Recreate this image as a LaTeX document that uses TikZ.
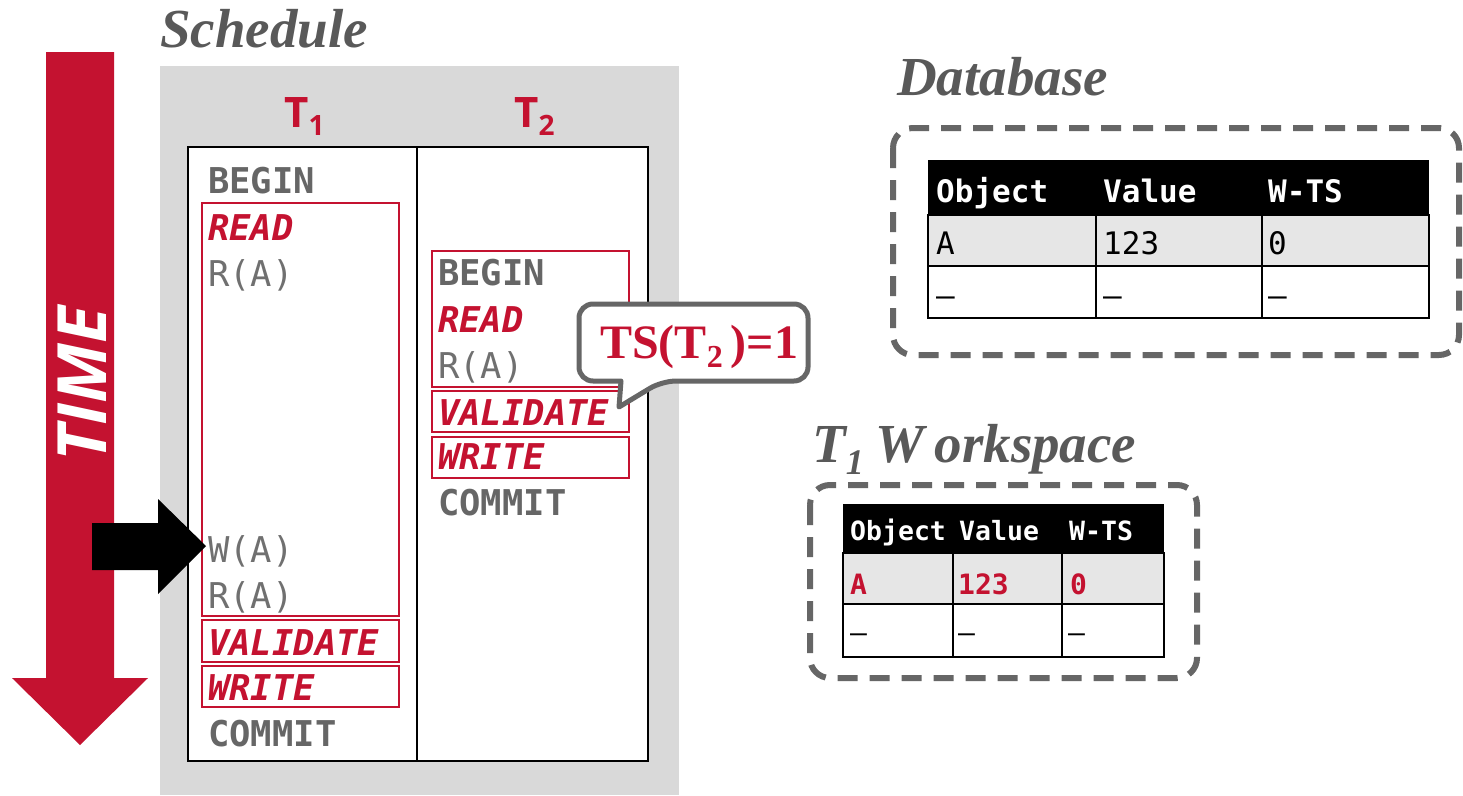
\documentclass[tikz,border=0pt]{standalone}
\usepackage{fontspec}
\setmainfont{Liberation Serif}
\newfontfamily\monofont{DejaVu Sans Mono}
\newfontfamily\sansfont{Open Sans}
\definecolor{cmured}{HTML}{C41230}
\definecolor{labelgray}{HTML}{595959}
\definecolor{txtgray}{HTML}{666666}
\definecolor{accgray}{HTML}{707070}
\definecolor{bggray}{HTML}{D9D9D9}
\definecolor{rowgray}{HTML}{E6E6E6}
\tikzset{
  title/.style={anchor=base west, inner sep=0pt, text=labelgray, font=\fontsize{55}{60}\selectfont\bfseries\itshape},
  opword/.style={anchor=base west, inner sep=0pt, text=txtgray, font=\monofont\fontsize{35.5}{40}\selectfont\bfseries},
  accword/.style={anchor=base west, inner sep=0pt, text=accgray, font=\monofont\fontsize{35.5}{40}\selectfont},
  phaseword/.style={anchor=base west, inner sep=0pt, text=cmured, font=\monofont\fontsize{35.5}{40}\selectfont\bfseries\itshape},
  phasebox/.style={draw=cmured, line width=1.6pt},
  dbox/.style={draw=txtgray, line width=6pt, dash pattern=on 20pt off 12pt, rounded corners=20pt},
  colhead/.style={anchor=base west, inner sep=0pt, text=cmured, font=\sansfont\fontsize{42}{46}\selectfont\bfseries},
  dbhead/.style={anchor=base west, inner sep=0pt, text=white, font=\monofont\fontsize{31}{34}\selectfont\bfseries},
  dbcell/.style={anchor=base west, inner sep=0pt, text=black, font=\monofont\fontsize{31}{34}\selectfont},
  wshead/.style={anchor=base west, inner sep=0pt, text=white, font=\monofont\fontsize{26.5}{30}\selectfont\bfseries},
  wscell/.style={anchor=base west, inner sep=0pt, text=cmured, font=\monofont\fontsize{28}{30}\selectfont\bfseries},
  wsdash/.style={anchor=base west, inner sep=0pt, text=black, font=\monofont\fontsize{28}{30}\selectfont},
  tline/.style={draw=black, line width=2pt},
}
\begin{document}
\begin{tikzpicture}[x=1pt, y=-1pt]
\useasboundingbox[fill=white] (0,0) rectangle (1463,795);

% TIME arrow
\fill[cmured] (46,52) -- (114,52) -- (114,678) -- (148,678) -- (80,745) -- (12,678) -- (46,678) -- cycle;
\node[rotate=90, inner sep=0pt, text=white, font=\sansfont\fontsize{68}{68}\selectfont\bfseries\itshape] (time) at (82,384) {TIME};

% Schedule
\node[title] (schedtitle) at (160,47) {Schedule};
\fill[bggray] (160,66) rectangle (679,795);
\draw[fill=white, line width=2pt] (188,147) rectangle (648,761);
\draw[line width=2pt] (417,147) -- (417,761);
\node[colhead] (t1) at (284,127) {T\raisebox{-8pt}{\fontsize{28}{28}\selectfont 1}};
\node[colhead] (t2) at (514,127) {T\raisebox{-8pt}{\fontsize{28}{28}\selectfont 2}};

% T1 column
\draw[phasebox] (202,203) rectangle (399,616);
\draw[phasebox] (202,620) rectangle (399,662);
\draw[phasebox] (202,666) rectangle (399,707);
\node[opword] (a1) at (208,193) {BEGIN};
\node[phaseword] (a2) at (208,240) {READ};
\node[accword] (a3) at (208,286) {R(A)};
\node[accword] (a4) at (208,562) {W(A)};
\node[accword] (a5) at (208,608) {R(A)};
\node[phaseword] (a6) at (208,655) {VALIDATE};
\node[phaseword] (a7) at (208,700) {WRITE};
\node[opword] (a8) at (208,746) {COMMIT};

% T2 column
\draw[phasebox] (432,251) rectangle (629,387);
\draw[phasebox] (432,391) rectangle (629,432);
\draw[phasebox] (432,437) rectangle (629,478);
\node[opword] (b1) at (438,285) {BEGIN};
\node[phaseword] (b2) at (438,332) {READ};
\node[accword] (b3) at (438,378) {R(A)};
\node[phaseword] (b4) at (438,425) {VALIDATE};
\node[phaseword] (b5) at (438,469) {WRITE};
\node[opword] (b6) at (438,515) {COMMIT};

% pointer arrow
\fill[black] (92,523) -- (158,523) -- (158,499) -- (206,546) -- (158,594) -- (158,570) -- (92,570) -- cycle;

% speech bubble
\draw[draw=txtgray, fill=white, line width=5pt, line join=round]
  (619,407) -- (621,381) [rounded corners=14pt] -- (579,381) -- (579,304) -- (808,304) -- (808,381) -- (662,381) [sharp corners] -- cycle;
\node[anchor=base west, inner sep=0pt, text=cmured, font=\fontsize{48}{52}\selectfont\bfseries] (ts) at (600,358)
  {TS(T\raisebox{-9pt}{\fontsize{32}{32}\selectfont 2}\,)=1};

% Database
\node[title] (dbtitle) at (897,95) {Database};
\draw[dbox] (893,128) rectangle (1459,355);
\fill[black] (928,160) rectangle (1429,215);
\fill[rowgray] (928,215) rectangle (1429,266);
\draw[tline] (928,215) rectangle (1429,318);
\draw[tline] (928,266) -- (1429,266);
\draw[tline] (1096,215) -- (1096,318);
\draw[tline] (1262,215) -- (1262,318);
\node[dbhead] (dh1) at (936,202) {Object};
\node[dbhead] (dh2) at (1103,202) {Value};
\node[dbhead] (dh3) at (1268,202) {W-TS};
\node[dbcell] (dc1) at (936,254) {A};
\node[dbcell] (dc2) at (1103,254) {123};
\node[dbcell] (dc3) at (1268,254) {0};
\node[dbcell] (dd1) at (936,306) {–};
\node[dbcell] (dd2) at (1103,306) {–};
\node[dbcell] (dd3) at (1268,306) {–};

% Workspace
\node[title] (wstitle) at (812,462) {T\raisebox{-12pt}{\fontsize{36}{36}\selectfont 1}\hspace{12pt}W\hspace{10pt}orkspace};
\draw[dbox] (810,485) rectangle (1197,678);
\fill[black] (843,504) rectangle (1164,553);
\fill[rowgray] (843,553) rectangle (1164,604);
\draw[tline] (843,553) rectangle (1164,657);
\draw[tline] (843,604) -- (1164,604);
\draw[tline] (953,553) -- (953,657);
\draw[tline] (1062,553) -- (1062,657);
\node[wshead] (wh1) at (850,540) {Object};
\node[wshead] (wh2) at (959,540) {Value};
\node[wshead] (wh3) at (1069,540) {W-TS};
\node[wscell] (wc1) at (850,594) {A};
\node[wscell] (wc2) at (958,594) {123};
\node[wscell] (wc3) at (1070,594) {0};
\node[wsdash] (wd1) at (850,642) {–};
\node[wsdash] (wd2) at (958,642) {–};
\node[wsdash] (wd3) at (1068,642) {–};
\end{tikzpicture}
\end{document}
